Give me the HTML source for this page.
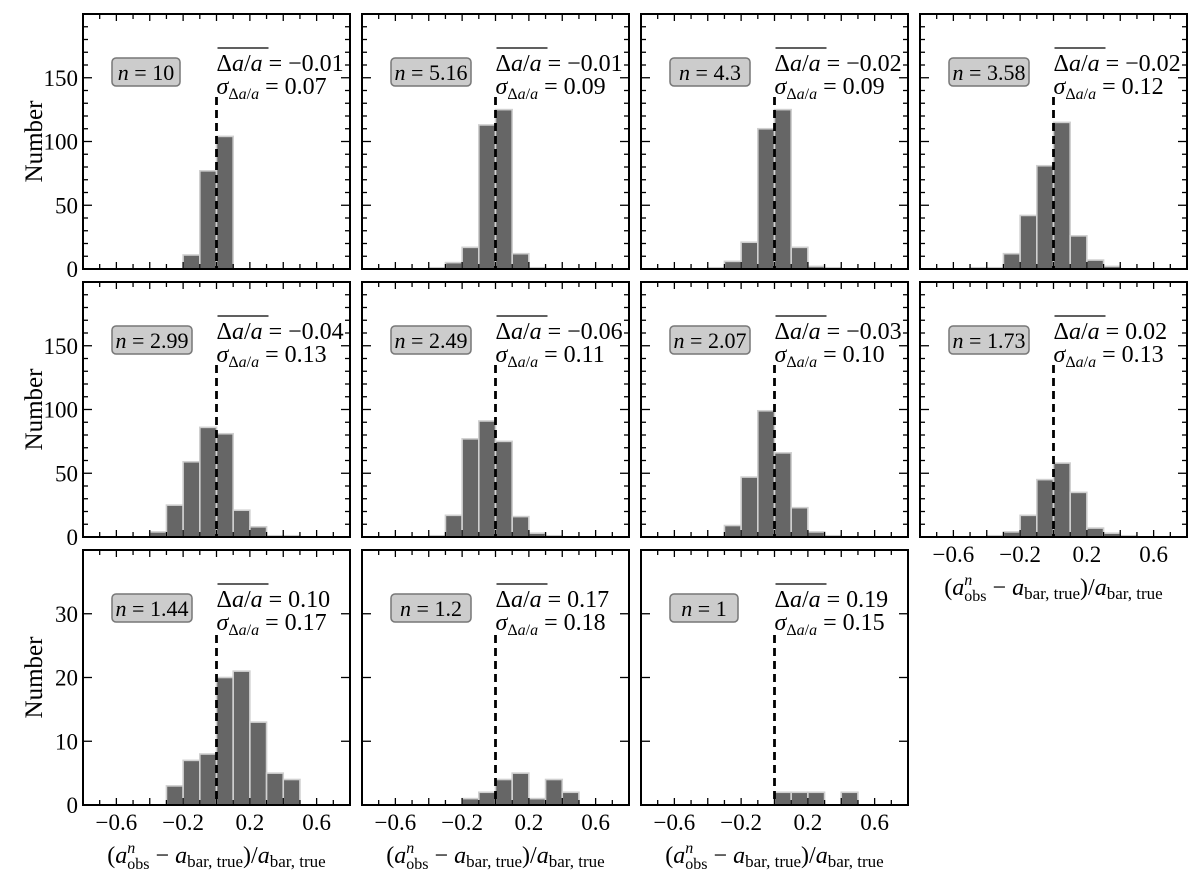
<!DOCTYPE html>
<html><head><meta charset="utf-8">
<style>
html,body{margin:0;padding:0;background:#fff;}
svg text{font-family:"Liberation Serif","DejaVu Serif",serif;fill:#000;}
</style></head>
<body>
<svg id="fig" width="1200" height="881" viewBox="0 0 1200 881" xmlns="http://www.w3.org/2000/svg"></svg>
<script>
// bin left edges (width 0.1)
const binEdges = [-0.5,-0.4,-0.3,-0.2,-0.1,0.0,0.1,0.2,0.3,0.4];
const nLabels = ["10","5.16","4.3","3.58","2.99","2.49","2.07","1.73","1.44","1.2","1"];
const meanLabels = ["\u22120.01","\u22120.01","\u22120.02","\u22120.02","\u22120.04","\u22120.06","\u22120.03","0.02","0.10","0.17","0.19"];
const sigmaLabels = ["0.07","0.09","0.09","0.12","0.13","0.11","0.10","0.13","0.17","0.18","0.15"];
const counts0 = [0,0,0,11,77,104,0,0,0,0];
const counts1 = [0,1,5,17,113,125,12,1,0,0];
const counts2 = [0,1,6,21,110,125,17,2,1,0];
const counts3 = [1,1,12,42,81,115,26,7,2,0];
const counts4 = [0,4,25,59,86,81,21,8,1,1];
const counts5 = [0,1,17,77,91,75,16,3,1,0];
const counts6 = [0,0,9,47,99,66,23,4,1,0];
const counts7 = [0,1,4,17,45,58,35,7,3,1];
const counts8 = [0,0,3,7,8,20,21,13,5,4];
const counts9 = [0,0,0,1,2,4,5,1,4,2];
const counts10 = [0,0,0,0,0,2,2,2,0,2];
const allCounts=[counts0,counts1,counts2,counts3,counts4,counts5,counts6,counts7,counts8,counts9,counts10];
const xTicks=[-0.6,-0.2,0.2,0.6];
const yTicksTop=[0,50,100,150];
const yTicksBottom=[0,10,20,30];

const NS="http://www.w3.org/2000/svg";
const svg=document.getElementById('fig');
function mk(tag,attrs,parent){const e=document.createElementNS(NS,tag);for(const k in attrs)e.setAttribute(k,attrs[k]);(parent||svg).appendChild(e);return e;}
const colX=[83,362,641,920], rowY=[14,282,550], W=267, H=255;
const xmin=-0.8,xmax=0.8;

for(let i=0;i<11;i++){
  const r=Math.floor(i/4), c=i%4;
  const L=colX[c], T=rowY[r], B=T+H;
  const ymax = r<2?200:40;
  const sx=v=>L+(v-xmin)/(xmax-xmin)*W;
  const sy=v=>B-v/ymax*H;
  const g=mk('g',{});
  
  
  allCounts[i].forEach((v,k)=>{
    if(v<=0)return;
    const b=mk('rect',{x:sx(binEdges[k]),y:sy(v),width:sx(binEdges[k]+0.1)-sx(binEdges[k]),height:B-sy(v),fill:'#666',stroke:'#d0d0d0','stroke-width':1.6},g);
    
    
  });
  const topDash = r<2?T+83:T+85;
  const dl=mk('line',{x1:sx(0),x2:sx(0),y1:topDash,y2:B,stroke:'#000','stroke-width':2.8,'stroke-dasharray':'8,5'},g);
  
  
  const fr=mk('rect',{x:L,y:T,width:W,height:H,fill:'none',stroke:'#000','stroke-width':2},g);
  
  
  for(let t=-7;t<=7;t++){
    const x=sx(t/10); const len=(Math.abs(t)%2===0)?7:5;
    mk('line',{x1:x,x2:x,y1:B,y2:B-len,stroke:'#000','stroke-width':1.3},g);
    mk('line',{x1:x,x2:x,y1:T,y2:T+len,stroke:'#000','stroke-width':1.3},g);
  }
  const minor = r<2?10:2, major=r<2?50:10;
  if(r<2){
    for(let v=minor;v<ymax;v+=minor){
      const y=sy(v); const len=(v%major===0)?9:5;
      mk('line',{x1:L,x2:L+len,y1:y,y2:y,stroke:'#000','stroke-width':1.3},g);
      mk('line',{x1:L+W,x2:L+W-len,y1:y,y2:y,stroke:'#000','stroke-width':1.3},g);
    }
  } else {
    for(let v=major;v<ymax;v+=major){
      const y=sy(v);
      mk('line',{x1:L,x2:L+9,y1:y,y2:y,stroke:'#000','stroke-width':1.3},g);
      mk('line',{x1:L+W,x2:L+W-9,y1:y,y2:y,stroke:'#000','stroke-width':1.3},g);
    }
  }
  if(c===0){
    (r<2?yTicksTop:yTicksBottom).forEach(v=>{
      const t=mk('text',{x:L-5,y:sy(v)+8,'font-size':23,'text-anchor':'end'},g);
      t.textContent=v;
      
      
    });
    const yl=mk('text',{x:0,y:0,'font-size':25,'text-anchor':'middle',transform:`translate(42,${T+H/2}) rotate(-90)`},g);
    yl.textContent='Number';
    
    
  }
  if(r===2 || i===7){
    xTicks.forEach(v=>{
      const t=mk('text',{x:sx(v),y:B+25,'font-size':23,'text-anchor':'middle'},g);
      t.textContent=(v<0?'\u2212':'')+Math.abs(v).toFixed(1);
      
      
    });
    const xl=mk('text',{x:L+W/2,y:B+58,'font-size':24,'text-anchor':'middle'},g);
    xl.innerHTML='(<tspan font-style="italic">a</tspan><tspan font-size="16" dy="-10" font-style="italic">n</tspan><tspan font-size="16" dx="-8" dy="16">obs</tspan><tspan dy="-6"> \u2212 </tspan><tspan font-style="italic">a</tspan><tspan font-size="17" dy="4">bar, true</tspan><tspan dy="-4">)/</tspan><tspan font-style="italic">a</tspan><tspan font-size="17" dy="4">bar, true</tspan>';
    
    
  }
  const bw = nLabels[i].length<=2 ? 68 : 80;
  const box=mk('rect',{x:L+29,y:T+44,width:bw,height:28,rx:4,fill:'#cccccc',stroke:'#777','stroke-width':1.5},g);
  
  
  const nt=mk('text',{x:L+29+bw/2,y:T+66,'font-size':22,'text-anchor':'middle'},g);
  nt.innerHTML='<tspan font-style="italic">n</tspan> = '+nLabels[i];
  
  
  const sx0=sx(0);
  mk('line',{x1:sx0+1,x2:sx0+52,y1:T+34,y2:T+34,stroke:'#000','stroke-width':1.3},g);
  const mt=mk('text',{x:sx0,y:T+57,'font-size':24},g);
  mt.innerHTML='\u0394<tspan font-style="italic">a</tspan>/<tspan font-style="italic">a</tspan> = '+meanLabels[i];
  
  
  const st=mk('text',{x:sx0,y:T+80,'font-size':24},g);
  st.innerHTML='<tspan font-style="italic">\u03c3</tspan><tspan font-size="16" dy="5">\u0394<tspan font-style="italic">a</tspan>/<tspan font-style="italic">a</tspan></tspan><tspan dy="-5"> = '+sigmaLabels[i]+'</tspan>';
  
  
}
</script>
</body></html>
